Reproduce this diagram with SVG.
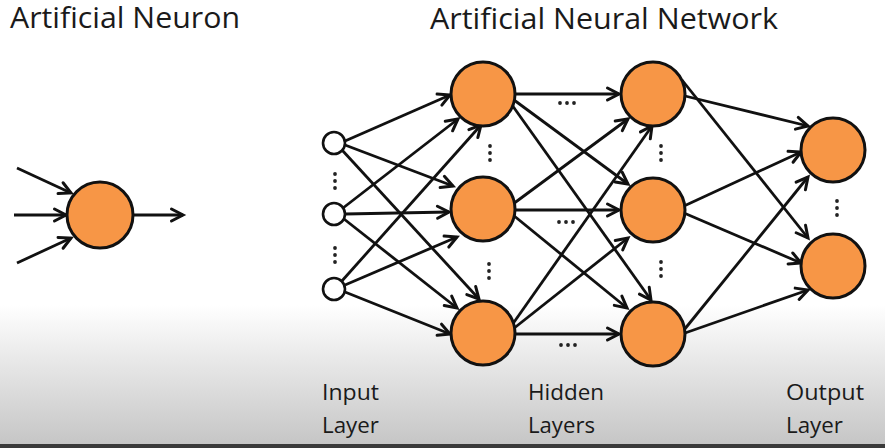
<svg xmlns="http://www.w3.org/2000/svg" width="885" height="448" viewBox="0 0 885 448">
<defs>
<linearGradient id="bg" gradientUnits="userSpaceOnUse" x1="0" y1="0" x2="0" y2="448">
<stop offset="0" stop-color="#ffffff"/>
<stop offset="0.68" stop-color="#ffffff"/>
<stop offset="0.99" stop-color="#c6c6c6"/>
</linearGradient>
<marker id="ah" markerUnits="userSpaceOnUse" markerWidth="16" markerHeight="16" refX="13" refY="7" orient="auto" overflow="visible">
<path d="M1.5,1 L13,7 L1.5,13" fill="none" stroke="#111" stroke-width="3" stroke-linecap="round" stroke-linejoin="miter"/>
</marker>
</defs>
<style>
.c{stroke:#111;stroke-width:2.8;fill:none;marker-end:url(#ah)}
.n{fill:#F79646;stroke:#111;stroke-width:3}
.i{fill:#ffffff;stroke:#111;stroke-width:2.6}
.d{fill:#222}
.t{font-family:"Open Sans","Liberation Sans",sans-serif;fill:#1a1a1a}
</style>
<rect x="0" y="0" width="885" height="448" fill="url(#bg)"/>
<rect x="0" y="444" width="885" height="4" fill="#3a3a3a"/>

<g id="connectors">
<!-- single neuron -->
<line class="c" x1="17" y1="168" x2="71" y2="193"/>
<line class="c" x1="14" y1="215" x2="66" y2="215"/>
<line class="c" x1="17" y1="263" x2="71" y2="238"/>
<line class="c" x1="133" y1="215" x2="183" y2="215"/>
<!-- input -> hidden1 -->
<line class="c" x1="345" y1="141" x2="450" y2="95"/>
<line class="c" x1="345" y1="145" x2="453" y2="186"/>
<line class="c" x1="342" y1="150" x2="479" y2="299"/>
<line class="c" x1="343" y1="208" x2="458" y2="119"/>
<line class="c" x1="345" y1="214" x2="449" y2="212"/>
<line class="c" x1="344" y1="219" x2="457" y2="308"/>
<line class="c" x1="341" y1="282" x2="481" y2="125"/>
<line class="c" x1="345" y1="285" x2="457" y2="237"/>
<line class="c" x1="345" y1="292" x2="450" y2="334"/>
<!-- hidden1 -> hidden2 -->
<line class="c" x1="515" y1="94" x2="619" y2="94"/>
<line class="c" x1="514" y1="100" x2="628" y2="184"/>
<line class="c" x1="512" y1="105" x2="651" y2="300"/>
<line class="c" x1="513" y1="204" x2="628" y2="119"/>
<line class="c" x1="515" y1="210" x2="619" y2="210"/>
<line class="c" x1="513" y1="215" x2="627" y2="308"/>
<line class="c" x1="512" y1="325" x2="652" y2="126"/>
<line class="c" x1="513" y1="329" x2="628" y2="238"/>
<line class="c" x1="515" y1="334" x2="619" y2="334"/>
<!-- hidden2 -> output -->
<line class="c" x1="685" y1="96" x2="808" y2="126"/>
<line class="c" x1="682" y1="80" x2="808" y2="238"/>
<line class="c" x1="684" y1="206" x2="801" y2="152"/>
<line class="c" x1="684" y1="213" x2="801" y2="263"/>
<line class="c" x1="684" y1="330" x2="808" y2="177"/>
<line class="c" x1="685" y1="333" x2="808" y2="290"/>
</g>

<g id="neuron"><circle class="n" cx="100" cy="215" r="33"/></g>

<g id="in1"><circle class="i" cx="334" cy="143" r="11"/></g>
<g id="in2"><circle class="i" cx="334" cy="214" r="11"/></g>
<g id="in3"><circle class="i" cx="334" cy="289" r="11"/></g>

<g id="h1a"><circle class="n" cx="483" cy="94" r="32"/></g>
<g id="h1b"><circle class="n" cx="483" cy="209" r="32"/></g>
<g id="h1c"><circle class="n" cx="483" cy="333" r="32"/></g>

<g id="h2a"><circle class="n" cx="653" cy="94" r="32"/></g>
<g id="h2b"><circle class="n" cx="653" cy="210" r="32"/></g>
<g id="h2c"><circle class="n" cx="653" cy="334" r="32"/></g>

<g id="o1"><circle class="n" cx="833" cy="150" r="32"/></g>
<g id="o2"><circle class="n" cx="833" cy="266" r="32"/></g>

<g id="ellipses">
<circle class="d" cx="335" cy="174" r="1.9"/><circle class="d" cx="335" cy="181" r="1.9"/><circle class="d" cx="335" cy="188" r="1.9"/>
<circle class="d" cx="335" cy="248" r="1.9"/><circle class="d" cx="335" cy="255" r="1.9"/><circle class="d" cx="335" cy="262" r="1.9"/>
<circle class="d" cx="490" cy="146" r="1.9"/><circle class="d" cx="490" cy="153" r="1.9"/><circle class="d" cx="490" cy="160" r="1.9"/>
<circle class="d" cx="489" cy="264" r="1.9"/><circle class="d" cx="489" cy="271" r="1.9"/><circle class="d" cx="489" cy="278" r="1.9"/>
<circle class="d" cx="661" cy="146" r="1.9"/><circle class="d" cx="661" cy="153" r="1.9"/><circle class="d" cx="661" cy="160" r="1.9"/>
<circle class="d" cx="661" cy="262" r="1.9"/><circle class="d" cx="661" cy="269" r="1.9"/><circle class="d" cx="661" cy="276" r="1.9"/>
<circle class="d" cx="837" cy="201" r="1.9"/><circle class="d" cx="837" cy="208" r="1.9"/><circle class="d" cx="837" cy="215" r="1.9"/>
<circle class="d" cx="560" cy="103" r="1.9"/><circle class="d" cx="567" cy="103" r="1.9"/><circle class="d" cx="574" cy="103" r="1.9"/>
<circle class="d" cx="559" cy="222" r="1.9"/><circle class="d" cx="566" cy="222" r="1.9"/><circle class="d" cx="573" cy="222" r="1.9"/>
<circle class="d" cx="561" cy="345" r="1.9"/><circle class="d" cx="568" cy="345" r="1.9"/><circle class="d" cx="575" cy="345" r="1.9"/>
</g>

<g id="labels">
<text class="t" x="10" y="28" font-size="30" textLength="230" lengthAdjust="spacingAndGlyphs">Artificial Neuron</text>
<text class="t" x="430" y="29" font-size="30" textLength="348" lengthAdjust="spacingAndGlyphs">Artificial Neural Network</text>
<text class="t" x="322" y="400" font-size="21" textLength="57" lengthAdjust="spacingAndGlyphs">Input</text>
<text class="t" x="322" y="433" font-size="21" textLength="57" lengthAdjust="spacingAndGlyphs">Layer</text>
<text class="t" x="528" y="400" font-size="21" textLength="76" lengthAdjust="spacingAndGlyphs">Hidden</text>
<text class="t" x="528" y="433" font-size="21" textLength="67" lengthAdjust="spacingAndGlyphs">Layers</text>
<text class="t" x="786" y="400" font-size="21" textLength="78" lengthAdjust="spacingAndGlyphs">Output</text>
<text class="t" x="786" y="433" font-size="21" textLength="57" lengthAdjust="spacingAndGlyphs">Layer</text>
</g>
</svg>
